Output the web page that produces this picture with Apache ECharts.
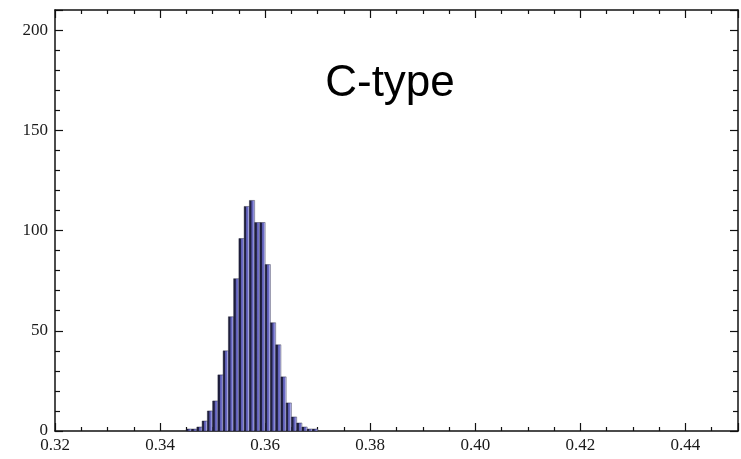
<!DOCTYPE html>
<html>
<head>
<meta charset="utf-8">
<script src="https://cdn.jsdelivr.net/npm/echarts@6/dist/echarts.min.js"></script>
<style>
html,body{margin:0;padding:0;background:#fff;}
#chart{width:741px;height:459px;}
</style>
</head>
<body>
<div id="chart"></div>
<script>
// ---- data ----
const binLefts = [0.345,0.346,0.347,0.348,0.349,0.350,0.351,0.352,0.353,0.354,
                  0.355,0.356,0.357,0.358,0.359,0.360,0.361,0.362,0.363,0.364,
                  0.365,0.366,0.367,0.368,0.369];
const binWidth = 0.001;
const counts = [1,1,2,5,10,15,28,40,57,76,
                96,112,115,104,104,83,54,43,27,14,
                7,4,2,1,1];
const xTickLabels = ['0.32','0.34','0.36','0.38','0.40','0.42','0.44'];
const yTickLabels = ['0','50','100','150','200'];
const chartLabel = 'C-type';

// ---- chart ----
const chart = echarts.init(document.getElementById('chart'), null, {renderer:'canvas'});
const data = binLefts.map((l,i)=>[l, +(l+binWidth).toFixed(4), counts[i]]);

const labelFont = {fontFamily:'Liberation Serif', fontSize:17, color:'#1a1a1a'};
const lineStyle = {color:'#111', width:1.5};

function xAx(pos, showLabel){
  return {
    type:'value', position:pos, min:0.32, max:0.45, interval:0.02,
    axisLine:{show:true, onZero:false, lineStyle},
    axisTick:{show:true, inside:true, length:8, lineStyle:{color:'#111', width:1.2}},
    minorTick:{show:true, splitNumber:4, length:4, lineStyle:{color:'#111', width:1.2}},
    splitLine:{show:false},
    axisLabel:{show:showLabel, margin:6, showMaxLabel:false,
      formatter:(v)=>{const s=v.toFixed(2); return xTickLabels.indexOf(s)>=0?s:'';}, ...labelFont}
  };
}
function yAx(pos, showLabel){
  return {
    type:'value', position:pos, min:0, max:210, interval:50,
    axisLine:{show:true, onZero:false, lineStyle},
    axisTick:{show:true, inside:true, length:8, lineStyle:{color:'#111', width:1.2}},
    minorTick:{show:true, splitNumber:5, length:5, lineStyle:{color:'#111', width:1.2}},
    splitLine:{show:false},
    axisLabel:{show:showLabel, margin:7, showMaxLabel:false,
      formatter:(v)=>{const s=String(v); return yTickLabels.indexOf(s)>=0?s:'';}, ...labelFont}
  };
}

const barFill = new echarts.graphic.LinearGradient(0,0,1,0,[
  {offset:0, color:'#1c1c36'},
  {offset:0.35, color:'#222244'},
  {offset:0.45, color:'#5a5ab0'},
  {offset:0.72, color:'#6e6ec8'},
  {offset:0.82, color:'#b8b8f0'},
  {offset:1, color:'#c2c2f4'}
]);

chart.setOption({
  animation:false,
  backgroundColor:'#fff',
  grid:{left:55, right:3, top:10, bottom:28, containLabel:false},
  xAxis:[xAx('bottom', true), xAx('top', false)],
  yAxis:[yAx('left', true), yAx('right', false)],
  series:[{
    type:'custom',
    xAxisIndex:0, yAxisIndex:0,
    data:data,
    encode:{x:[0,1], y:2},
    renderItem:(params, api)=>{
      const p0 = api.coord([api.value(0), api.value(2)]);
      const p1 = api.coord([api.value(1), 0]);
      return {type:'rect',
        shape:{x:p0[0], y:p0[1], width:p1[0]-p0[0], height:p1[1]-p0[1]},
        style:{fill:barFill, stroke:'#1a1a30', lineWidth:0.4}};
    }
  }],
  graphic:[{
    type:'text', x:390, y:84,
    style:{text:chartLabel, font:'44px "Liberation Sans", Arial, sans-serif',
      fill:'#000', textAlign:'center', textVerticalAlign:'middle', verticalAlign:'middle'}
  }]
});
</script>
</body>
</html>
